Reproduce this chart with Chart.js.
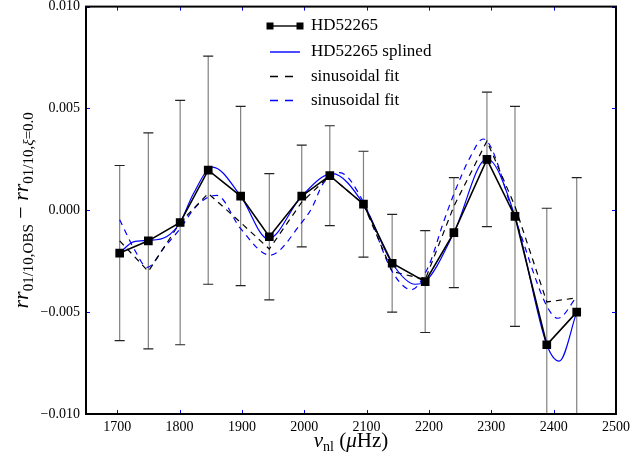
<!DOCTYPE html>
<html>
<head>
<meta charset="utf-8">
<script src="https://cdn.jsdelivr.net/npm/chart.js@4.4.1/dist/chart.umd.min.js"></script>
<style>
  html, body { margin: 0; padding: 0; background: #fff; }
  #wrap { width: 642px; height: 456px; }
</style>
</head>
<body>
<div id="wrap"><canvas id="chart" width="642" height="456"></canvas></div>
<script>
const freq = [1704, 1750, 1801, 1846, 1898, 1944, 1996, 2041, 2095, 2141, 2194, 2240, 2293, 2338, 2389, 2437];
const ratio = [-0.0021, -0.0015, -0.0006, 0.00197, 0.0007, -0.0013, 0.0007, 0.0017, 0.0003, -0.0026, -0.0035, -0.0011, 0.0025, -0.0003, -0.0066, -0.0050];
const ratioErr = [0.0043, 0.0053, 0.0060, 0.0056, 0.0044, 0.0031, 0.0025, 0.00245, 0.0026, 0.0024, 0.0025, 0.0027, 0.0033, 0.0054, 0.0067, 0.0066];

// splined curve, sampled along the drawn line
const splineFreq = [1704, 1726, 1750, 1779, 1801, 1822, 1853, 1898, 1942, 1996, 2045, 2095, 2141, 2178, 2194, 2240, 2293, 2338, 2389, 2409, 2437];
const splineVal = [-0.0021, -0.00155, -0.00148, -0.0013, -0.0006, 0.0008, 0.00212, 0.0007, -0.0014, 0.0007, 0.0018, 0.0003, -0.0026, -0.00363, -0.0035, -0.0011, 0.00253, -0.0003, -0.0066, -0.0074, -0.0050];

// first sinusoidal fit (black), at the observed frequencies
const fitBlack = [-0.0015, -0.0030, -0.0006, 0.00083, -0.0006, -0.0019, 0.0004, 0.0017, 0.0003, -0.0030, -0.0034, 0.0002, 0.0034, 0.0002, -0.0045, -0.0043];

// second sinusoidal fit (blue), sampled along the drawn line
const fitBlueFreq = [1704, 1729, 1748, 1776, 1801, 1824, 1846, 1860, 1898, 1945, 1996, 2012, 2030, 2057, 2095, 2141, 2172, 2200, 2222, 2240, 2266, 2287, 2338, 2389, 2407, 2437];
const fitBlueVal = [-0.00046, -0.0020, -0.0028, -0.0018, -0.0009, 0.0001, 0.00065, 0.00073, -0.0009, -0.0022, -0.0006, 0.0001, 0.0013, 0.00185, 0.0004, -0.0030, -0.0039, -0.0027, -0.0007, 0.0008, 0.0026, 0.0035, -0.0004, -0.0047, -0.0053, -0.00425];

const xTicks = [1700, 1800, 1900, 2000, 2100, 2200, 2300, 2400, 2500];
const yTicks = [-0.01, -0.005, 0, 0.005, 0.01];

const legendLabels = ["HD52265", "HD52265 splined", "sinusoidal fit", "sinusoidal fit"];

const SERIF = '"Liberation Serif", "DejaVu Serif", serif';
const pts = (xs, ys) => xs.map((x, i) => ({ x: x, y: ys[i] }));

// draws pieces of text with different fonts / offsets, centred on (0,0)
function drawRich(ctx, parts) {
  let total = 0;
  parts.forEach(p => { ctx.font = p.font; p.w = ctx.measureText(p.t).width; total += p.w; });
  let x = -total / 2;
  ctx.textAlign = "left";
  ctx.textBaseline = "alphabetic";
  parts.forEach(p => {
    ctx.font = p.font;
    ctx.fillText(p.t, x, p.dy || 0);
    x += p.w;
  });
}

const decor = {
  id: "decor",
  beforeDatasetsDraw(chart) {
    const { ctx, chartArea: a, scales: { x, y } } = chart;
    ctx.save();
    ctx.beginPath();
    ctx.rect(a.left, a.top, a.right - a.left, a.bottom - a.top);
    ctx.clip();
    ctx.lineWidth = 1.2;
    freq.forEach((f, i) => {
      const px = x.getPixelForValue(f);
      const top = y.getPixelForValue(ratio[i] + ratioErr[i]);
      const bot = y.getPixelForValue(ratio[i] - ratioErr[i]);
      ctx.strokeStyle = "#808080";
      ctx.beginPath();
      ctx.moveTo(px, top);
      ctx.lineTo(px, bot);
      ctx.stroke();
      ctx.strokeStyle = "#222";
      [top, bot].forEach(cy => {
        ctx.beginPath();
        ctx.moveTo(px - 5, cy);
        ctx.lineTo(px + 5, cy);
        ctx.stroke();
      });
    });
    ctx.restore();
  },
  afterDraw(chart) {
    const { ctx, chartArea: a, scales: { x, y } } = chart;
    ctx.save();

    // tick marks on all four sides, pointing inwards
    ctx.strokeStyle = "#0000ff";
    ctx.lineWidth = 1;
    xTicks.forEach(v => {
      const px = Math.round(x.getPixelForValue(v)) + 0.5;
      ctx.beginPath();
      ctx.moveTo(px, a.bottom); ctx.lineTo(px, a.bottom - 4);
      ctx.moveTo(px, a.top); ctx.lineTo(px, a.top + 4);
      ctx.stroke();
    });
    yTicks.forEach(v => {
      const py = Math.round(y.getPixelForValue(v)) + 0.5;
      ctx.beginPath();
      ctx.moveTo(a.left, py); ctx.lineTo(a.left + 4, py);
      ctx.moveTo(a.right, py); ctx.lineTo(a.right - 4, py);
      ctx.stroke();
    });

    // frame
    ctx.strokeStyle = "#000";
    ctx.lineWidth = 2;
    ctx.strokeRect(a.left, a.top, a.right - a.left, a.bottom - a.top);

    // legend
    const rows = [26, 52, 76.5, 100.5];
    const x0 = 270, x1 = 300;
    ctx.lineWidth = 1.4;
    rows.forEach((ry, i) => {
      ctx.strokeStyle = (i === 1 || i === 3) ? "#0000ff" : "#000";
      ctx.setLineDash(i >= 2 ? [8, 7] : []);
      ctx.beginPath();
      ctx.moveTo(x0, ry); ctx.lineTo(x1, ry);
      ctx.stroke();
      ctx.setLineDash([]);
      if (i === 0) {
        ctx.fillStyle = "#000";
        ctx.fillRect(x0 - 3.5, ry - 3.5, 7, 7);
        ctx.fillRect(x1 - 3.5, ry - 3.5, 7, 7);
      }
      ctx.fillStyle = "#000";
      ctx.font = "17px " + SERIF;
      ctx.textAlign = "left";
      ctx.textBaseline = "middle";
      ctx.fillText(legendLabels[i], 311, ry);
    });

    // x axis title
    ctx.fillStyle = "#000";
    ctx.save();
    ctx.translate((a.left + a.right) / 2, 447);
    drawRich(ctx, [
      { t: "\u03bd", font: "italic 21px " + SERIF },
      { t: "nl", font: "14px " + SERIF, dy: 4 },
      { t: " (", font: "21px " + SERIF },
      { t: "\u03bc", font: "italic 21px " + SERIF },
      { t: "Hz)", font: "21px " + SERIF }
    ]);
    ctx.restore();

    // y axis title
    ctx.save();
    ctx.translate(28, (a.top + a.bottom) / 2);
    ctx.rotate(-Math.PI / 2);
    drawRich(ctx, [
      { t: "rr", font: "italic 22px " + SERIF },
      { t: "01/10,OBS", font: "15px " + SERIF, dy: 5 },
      { t: " \u2212 ", font: "22px " + SERIF },
      { t: "rr", font: "italic 22px " + SERIF },
      { t: "01/10,", font: "15px " + SERIF, dy: 5 },
      { t: "\u03be", font: "italic 15px " + SERIF, dy: 5 },
      { t: "=0.0", font: "15px " + SERIF, dy: 5 }
    ]);
    ctx.restore();

    ctx.restore();
  }
};

const tickFont = { family: SERIF, size: 14 };

new Chart(document.getElementById("chart"), {
  type: "scatter",
  data: {
    datasets: [
      {
        label: legendLabels[0],
        data: pts(freq, ratio),
        showLine: true,
        borderColor: "#000",
        backgroundColor: "#000",
        borderWidth: 1.6,
        pointStyle: "rect",
        pointRadius: 5,
        pointHoverRadius: 5,
        order: 0
      },
      {
        label: legendLabels[1],
        data: pts(splineFreq, splineVal),
        showLine: true,
        borderColor: "#0000ff",
        borderWidth: 1.2,
        pointRadius: 0,
        cubicInterpolationMode: "monotone",
        order: 1
      },
      {
        label: legendLabels[2],
        data: pts(freq, fitBlack),
        showLine: true,
        borderColor: "#000",
        borderWidth: 1.2,
        borderDash: [6, 5],
        pointRadius: 0,
        order: 2
      },
      {
        label: legendLabels[3],
        data: pts(fitBlueFreq, fitBlueVal),
        showLine: true,
        borderColor: "#0000ff",
        borderWidth: 1.2,
        borderDash: [6, 5],
        pointRadius: 0,
        cubicInterpolationMode: "monotone",
        order: 3
      }
    ]
  },
  options: {
    responsive: false,
    animation: false,
    events: [],
    layout: { padding: { top: 6, right: 26, left: 0, bottom: 0 } },
    plugins: { legend: { display: false }, tooltip: { enabled: false } },
    scales: {
      x: {
        type: "linear",
        min: 1650,
        max: 2500,
        afterBuildTicks: s => { s.ticks = xTicks.map(v => ({ value: v })); },
        afterFit: s => { s.height = 42; s.paddingLeft = 0; s.paddingRight = 0; },
        grid: { display: false, drawTicks: false },
        border: { display: false },
        ticks: { font: tickFont, color: "#000", padding: 5, maxRotation: 0, autoSkip: false, callback: v => String(v) }
      },
      y: {
        min: -0.01,
        max: 0.01,
        afterBuildTicks: s => { s.ticks = yTicks.map(v => ({ value: v })); },
        afterFit: s => { s.width = 86; s.paddingTop = 0; s.paddingBottom = 0; },
        grid: { display: false, drawTicks: false },
        border: { display: false },
        ticks: {
          font: tickFont, color: "#000", padding: 6,
          callback: v => Math.abs(v) < 1e-12 ? "0.000" : (v < 0 ? "\u2212" : "") + Math.abs(v).toFixed(3)
        }
      }
    }
  },
  plugins: [decor]
});
</script>
</body>
</html>
